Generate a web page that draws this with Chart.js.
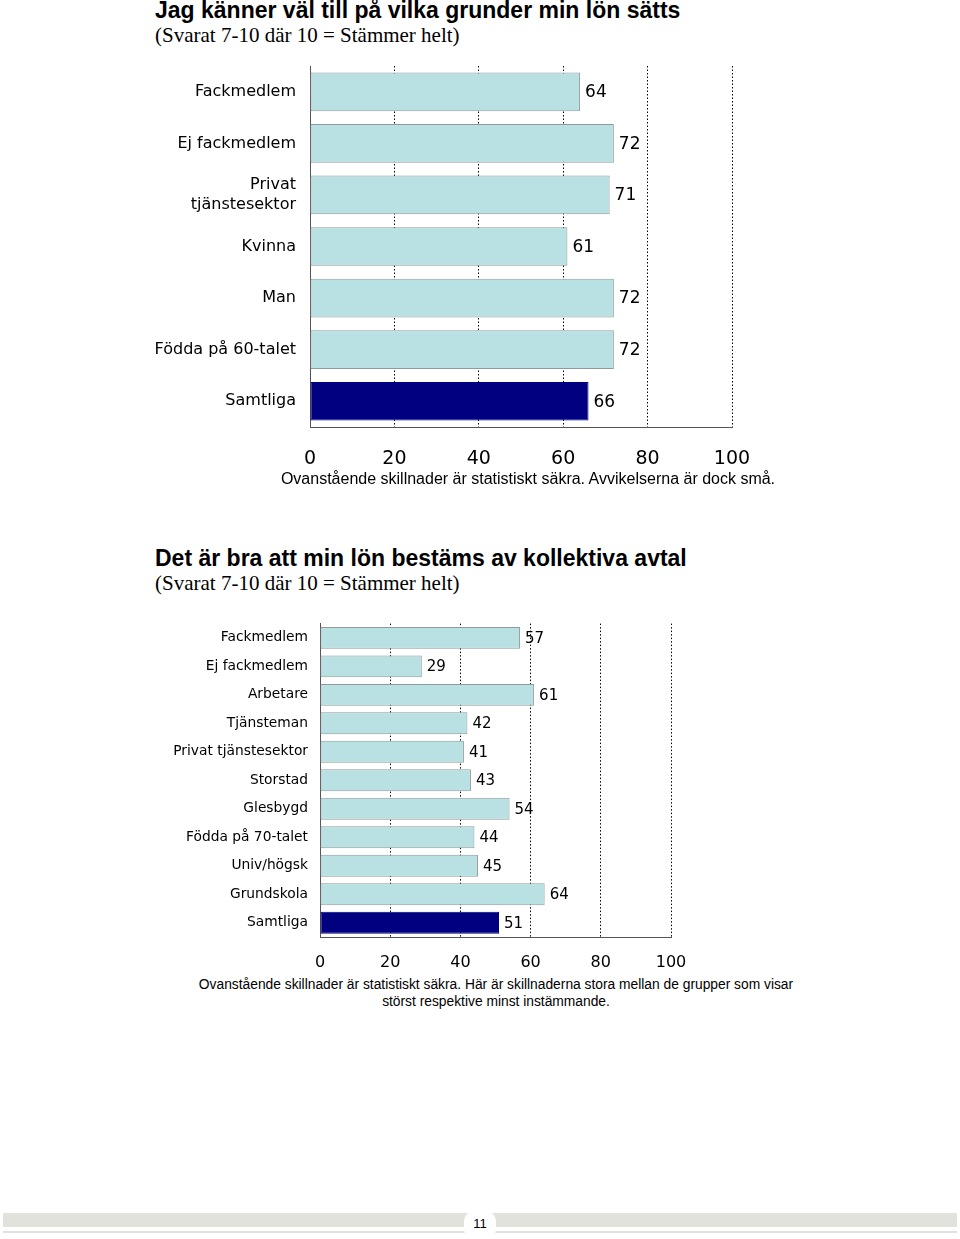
<!DOCTYPE html>
<html>
<head>
<meta charset="utf-8">
<script src="https://cdn.jsdelivr.net/npm/chart.js@4/dist/chart.umd.min.js"></script>
<style>
  body { margin: 0; width: 960px; height: 1239px; position: relative; background: #fff; overflow: hidden; }
  .title { position: absolute; left: 155px; font: bold 23px "Liberation Sans", Arial, sans-serif; color: #000; white-space: nowrap; }
  .sub { position: absolute; left: 155px; font: 21px "Liberation Serif", "Times New Roman", serif; color: #000; white-space: nowrap; }
  .note { position: absolute; font: 16px "Liberation Sans", Arial, sans-serif; color: #000; text-align: center; white-space: nowrap; }
  canvas { position: absolute; }
  #footBar { position: absolute; left: 3px; top: 1213px; width: 954px; height: 14px; background: #e2e2dc; }
  #footLine { position: absolute; left: 3px; top: 1231px; width: 954px; height: 2px; background: #e2e2dc; }
  #pageNo { position: absolute; left: 464px; top: 1211px; width: 32px; height: 28px; background: #fff; border-radius: 10px;
            font: 13px "Liberation Sans", Arial, sans-serif; text-align: center; line-height: 26px; }
</style>
</head>
<body>

<div class="title" style="top:-3px">Jag känner väl till på vilka grunder min lön sätts</div>
<div class="sub" style="top:23px">(Svarat 7-10 där 10 = Stämmer helt)</div>
<canvas id="chart1" width="660" height="433" style="left:140px; top:42px"></canvas>
<div class="note" style="left:278px; top:470px; width:500px">Ovanstående skillnader är statistiskt säkra. Avvikelserna är dock små.</div>

<div class="title" style="top:545px">Det är bra att min lön bestäms av kollektiva avtal</div>
<div class="sub" style="top:571px">(Svarat 7-10 där 10 = Stämmer helt)</div>
<canvas id="chart2" width="560" height="372" style="left:160px; top:603px"></canvas>
<div class="note" style="left:196px; top:976px; width:600px; font-size:13.8px; line-height:17px">Ovanstående skillnader är statistiskt säkra. Här är skillnaderna stora mellan de grupper som visar<br>störst respektive minst instämmande.</div>

<div id="footBar"></div>
<div id="footLine"></div>
<div id="pageNo">11</div>

<script>
// === Data: chart 1 ===
const labels1 = ["Fackmedlem", "Ej fackmedlem", ["Privat", "tjänstesektor"], "Kvinna", "Man", "Födda på 60-talet", "Samtliga"];
const values1 = [64, 72, 71, 61, 72, 72, 66];

// === Data: chart 2 ===
const labels2 = ["Fackmedlem", "Ej fackmedlem", "Arbetare", "Tjänsteman", "Privat tjänstesektor", "Storstad",
                 "Glesbygd", "Födda på 70-talet", "Univ/högsk", "Grundskola", "Samtliga"];
const values2 = [57, 29, 61, 42, 41, 43, 54, 44, 45, 64, 51];

// x axis ticks (shared)
const xTicks = [0, 20, 40, 60, 80, 100];

const LIGHT = "#b9e0e3";
const NAVY = "#000080";

// Last category ("Samtliga") is navy, others light blue
function barColors(labels) {
    return labels.map((l, i) => i === labels.length - 1 ? NAVY : LIGHT);
}
function borderColors(labels) {
    return labels.map((l, i) => i === labels.length - 1 ? NAVY : "#8f9a9b");
}

// === Plugin: value labels at the end of each bar ===
const valueLabels = {
    id: "valueLabels",
    afterDatasetsDraw(chart, args, opts) {
        const ctx = chart.ctx;
        const meta = chart.getDatasetMeta(0);
        const data = chart.data.datasets[0].data;
        ctx.save();
        ctx.font = opts.size + "px 'DejaVu Sans', Verdana, sans-serif";
        ctx.fillStyle = "#000";
        ctx.textAlign = "left";
        ctx.textBaseline = "middle";
        meta.data.forEach((bar, i) => {
            ctx.fillText(String(data[i]), bar.x + 5, bar.y + 1);
        });
        ctx.restore();
    }
};

function makeChart(id, labels, values, cfg) {
    const ctx = document.getElementById(id).getContext("2d");
    return new Chart(ctx, {
        type: "bar",
        data: {
            labels: labels,
            datasets: [{
                data: values,
                backgroundColor: barColors(labels),
                borderColor: borderColors(labels),
                borderWidth: 1,
                borderSkipped: false,
                categoryPercentage: 1,
                barPercentage: cfg.barPct
            }]
        },
        plugins: [valueLabels],
        options: {
            indexAxis: "y",
            responsive: false,
            animation: false,
            events: [],
            layout: { padding: { top: cfg.padTop, right: cfg.padRight, left: 0, bottom: 0 } },
            plugins: {
                legend: { display: false },
                tooltip: { enabled: false },
                valueLabels: { size: cfg.valueSize }
            },
            scales: {
                x: {
                    min: 0,
                    max: 100,
                    afterBuildTicks: axis => { axis.ticks = xTicks.map(v => ({ value: v })); },
                    afterFit: axis => { axis.height = cfg.xHeight; },
                    grid: { color: "#000", lineWidth: 1, drawTicks: false },
                    border: { display: true, color: "#555", width: 1, dash: [1.5, 2] },
                    ticks: {
                        padding: cfg.xPad,
                        color: "#000",
                        font: { family: "'DejaVu Sans', Verdana, sans-serif", size: cfg.xTickSize }
                    }
                },
                y: {
                    afterFit: axis => { axis.width = cfg.yWidth; },
                    grid: { display: false, drawTicks: false },
                    border: { display: true, color: "#555", width: 1 },
                    ticks: {
                        padding: cfg.yPad,
                        color: "#000",
                        font: { family: "'DejaVu Sans', Verdana, sans-serif", size: cfg.yTickSize, lineHeight: 1.25 }
                    }
                }
            }
        }
    });
}

makeChart("chart1", labels1, values1, {
    barPct: 0.75, padTop: 10, padRight: 68, xHeight: 48, yWidth: 170,
    xPad: 21, yPad: 14, xTickSize: 19, yTickSize: 16, valueSize: 17
});

makeChart("chart2", labels2, values2, {
    barPct: 0.77, padTop: 8, padRight: 49, xHeight: 38, yWidth: 160,
    xPad: 16, yPad: 12, xTickSize: 16, yTickSize: 13.8, valueSize: 15
});
</script>
</body>
</html>
